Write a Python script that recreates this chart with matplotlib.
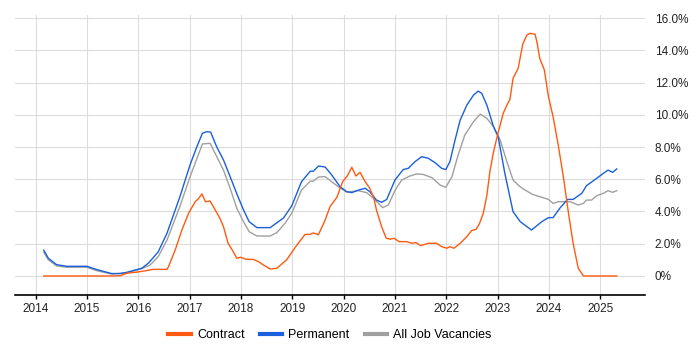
import matplotlib
matplotlib.use("Agg")
import matplotlib.pyplot as plt
from matplotlib.ticker import FixedLocator, FuncFormatter

# ---- data (decimal year, percent) ----
perm_dates = [2014.16, 2014.25, 2014.41, 2014.61, 2015.00, 2015.19, 2015.48, 2015.65, 2015.78,
              2016.07, 2016.20, 2016.39, 2016.56, 2016.81, 2017.01, 2017.14, 2017.25, 2017.33,
              2017.41, 2017.53, 2017.66, 2017.79, 2017.92, 2018.05, 2018.16, 2018.31, 2018.57,
              2018.70, 2018.83, 2018.99, 2019.18, 2019.35, 2019.41, 2019.51, 2019.64, 2019.77,
              2019.93, 2020.06, 2020.16, 2020.29, 2020.42, 2020.51, 2020.64, 2020.74, 2020.84,
              2021.00, 2021.16, 2021.26, 2021.39, 2021.52, 2021.65, 2021.78, 2021.91, 2021.99,
              2022.07, 2022.17, 2022.27, 2022.40, 2022.53, 2022.62, 2022.69, 2022.79, 2022.92,
              2023.01, 2023.14, 2023.30, 2023.44, 2023.66, 2023.86, 2023.99, 2024.08, 2024.21,
              2024.36, 2024.47, 2024.64, 2024.73, 2024.93, 2025.06, 2025.15, 2025.24, 2025.32]
perm_vals = [1.6, 1.1, 0.7, 0.6, 0.6, 0.4, 0.15, 0.15, 0.23,
             0.48, 0.8, 1.5, 2.65, 4.9, 6.9, 8.0, 8.85, 8.95,
             8.93, 8.0, 7.2, 6.16, 5.1, 4.1, 3.37, 3.0, 3.0,
             3.3, 3.6, 4.35, 5.85, 6.5, 6.5, 6.82, 6.76, 6.26,
             5.54, 5.23, 5.17, 5.33, 5.44, 5.23, 4.71, 4.57, 4.75,
             5.95, 6.6, 6.68, 7.09, 7.4, 7.3, 7.03, 6.68, 6.6,
             7.09, 8.43, 9.67, 10.6, 11.22, 11.47, 11.33, 10.6, 9.26,
             8.64, 6.37, 3.99, 3.37, 2.85, 3.37, 3.62, 3.62, 4.2,
             4.75, 4.75, 5.13, 5.6, 6.06, 6.37, 6.57, 6.43, 6.64]

all_dates = [2014.16, 2014.25, 2014.41, 2014.61, 2015.00, 2015.19, 2015.48, 2015.78, 2016.07,
             2016.23, 2016.39, 2016.56, 2016.81, 2017.01, 2017.25, 2017.40, 2017.53, 2017.66,
             2017.79, 2017.92, 2018.05, 2018.16, 2018.31, 2018.57, 2018.70, 2018.86, 2018.99,
             2019.18, 2019.35, 2019.41, 2019.51, 2019.64, 2019.87, 2020.06, 2020.29, 2020.45,
             2020.58, 2020.76, 2020.87, 2021.00, 2021.13, 2021.29, 2021.42, 2021.55, 2021.72,
             2021.88, 2021.99, 2022.11, 2022.23, 2022.36, 2022.53, 2022.66, 2022.79, 2022.92,
             2023.05, 2023.18, 2023.30, 2023.42, 2023.50, 2023.68, 2023.82, 2023.99, 2024.08,
             2024.18, 2024.41, 2024.57, 2024.67, 2024.73, 2024.83, 2024.93, 2025.06, 2025.15,
             2025.24, 2025.32]
all_vals = [1.47, 1.0, 0.62, 0.54, 0.54, 0.33, 0.12, 0.2, 0.45,
            0.68, 1.2, 2.23, 4.3, 6.16, 8.19, 8.23, 7.4, 6.57,
            5.44, 4.2, 3.37, 2.75, 2.48, 2.48, 2.69, 3.27, 3.89,
            5.33, 5.88, 5.88, 6.14, 6.16, 5.6, 5.2, 5.29, 5.17,
            4.82, 4.24, 4.4, 5.3, 5.95, 6.2, 6.33, 6.3, 6.1,
            5.64, 5.5, 6.16, 7.5, 8.74, 9.57, 10.04, 9.78, 9.26,
            8.43, 7.09, 5.95, 5.58, 5.4, 5.06, 4.92, 4.75, 4.5,
            4.61, 4.61, 4.4, 4.5, 4.71, 4.71, 4.98, 5.13, 5.29,
            5.19, 5.29]

contract_dates = [2014.16, 2015.52, 2015.65, 2015.78, 2016.04, 2016.29, 2016.56, 2016.59, 2016.72,
                  2016.85, 2016.98, 2017.11, 2017.17, 2017.24, 2017.31, 2017.40, 2017.50, 2017.59,
                  2017.66, 2017.75, 2017.85, 2017.92, 2017.99, 2018.11, 2018.24, 2018.34, 2018.44,
                  2018.57, 2018.70, 2018.89, 2019.09, 2019.25, 2019.35, 2019.41, 2019.51, 2019.64,
                  2019.74, 2019.87, 2019.98, 2020.07, 2020.16, 2020.24, 2020.32, 2020.42, 2020.51,
                  2020.59, 2020.64, 2020.74, 2020.83, 2020.91, 2020.98, 2021.08, 2021.23, 2021.33,
                  2021.41, 2021.50, 2021.65, 2021.81, 2021.91, 2022.01, 2022.07, 2022.15, 2022.27,
                  2022.40, 2022.49, 2022.58, 2022.64, 2022.72, 2022.79, 2022.85, 2022.92, 2023.01,
                  2023.11, 2023.18, 2023.24, 2023.30, 2023.40, 2023.49, 2023.57, 2023.63, 2023.73,
                  2023.77, 2023.82, 2023.91, 2023.99, 2024.08, 2024.18, 2024.28, 2024.38, 2024.47,
                  2024.57, 2024.67, 2025.32]
contract_vals = [0.0, 0.0, 0.02, 0.17, 0.27, 0.41, 0.41, 0.58, 1.61,
                 2.85, 3.89, 4.61, 4.78, 5.09, 4.61, 4.65, 4.09, 3.58,
                 3.06, 2.03, 1.51, 1.1, 1.16, 1.03, 1.03, 0.89, 0.68,
                 0.43, 0.48, 1.0, 1.92, 2.58, 2.58, 2.67, 2.56, 3.47,
                 4.33, 4.88, 5.85, 6.2, 6.74, 6.2, 6.43, 5.85, 5.44,
                 4.82, 4.09, 3.06, 2.34, 2.28, 2.34, 2.13, 2.13, 2.03,
                 2.07, 1.88, 2.03, 2.03, 1.82, 1.72, 1.82, 1.72, 2.03,
                 2.44, 2.81, 2.9, 3.2, 3.89, 5.0, 6.5, 7.7, 8.9,
                 10.1, 10.6, 10.96, 12.26, 12.88, 14.39, 14.95, 15.05, 15.0,
                 14.43, 13.5, 12.78, 11.12, 9.88, 8.12, 6.16, 3.89, 2.03,
                 0.48, 0.0, 0.0]

year_ticks = [2014, 2015, 2016, 2017, 2018, 2019, 2020, 2021, 2022, 2023, 2024, 2025]
pct_ticks = [0, 2, 4, 6, 8, 10, 12, 14, 16]

c_contract = "#ff5a0f"
c_perm = "#1a5fdc"
c_all = "#a0a0a0"

plt.rcParams["font.family"] = ["Liberation Sans", "DejaVu Sans"]

fig = plt.figure(figsize=(7, 3.5), dpi=100)
ax = fig.add_axes([15 / 700, 55 / 350, 630 / 700, 280 / 350])

ax.plot(all_dates, all_vals, color=c_all, lw=1.0, label="All Job Vacancies", zorder=3)
ax.plot(perm_dates, perm_vals, color=c_perm, lw=1.0, label="Permanent", zorder=4)
ax.plot(contract_dates, contract_vals, color=c_contract, lw=1.0, label="Contract", zorder=5)

ax.set_xlim(2013.6, 2025.87)
ax.set_ylim(-1.18, 16.19)

ax.xaxis.set_major_locator(FixedLocator(year_ticks))
ax.xaxis.set_major_formatter(FuncFormatter(lambda v, p: f"{int(round(v))}"))
ax.yaxis.set_major_locator(FixedLocator(pct_ticks))
ax.yaxis.set_major_formatter(FuncFormatter(lambda v, p: "0%" if abs(v) < 1e-9 else f"{v:.1f}%"))

ax.yaxis.tick_right()
ax.tick_params(axis="y", length=0, pad=7, labelsize=8.5, colors="#222222")
ax.tick_params(axis="x", length=3, width=1, color="#000000", labelsize=8.5, labelcolor="#222222", pad=3)
for lab in ax.get_yticklabels():
    lab.set_horizontalalignment("left")

ax.grid(True, color="#dcdcdc", lw=0.8)
ax.set_axisbelow(True)
for s in ("top", "right", "left"):
    ax.spines[s].set_visible(False)
ax.spines["bottom"].set_color("#000000")
ax.spines["bottom"].set_linewidth(1.2)

handles, labels = ax.get_legend_handles_labels()
order = [2, 1, 0]
leg = fig.legend([handles[i] for i in order], [labels[i] for i in order],
                 loc="center", bbox_to_anchor=(330 / 700, 1 - 335 / 350), ncol=3,
                 frameon=False, fontsize=9, handlelength=1.8, handletextpad=0.5,
                 columnspacing=1.2)
for line in leg.get_lines():
    line.set_linewidth(3)

fig.savefig("out.png", dpi=100)
